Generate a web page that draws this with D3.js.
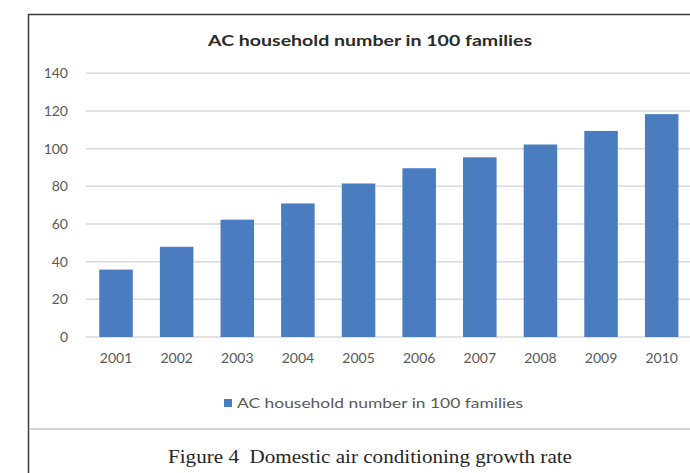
<!DOCTYPE html>
<html>
<head>
<meta charset="utf-8">
<script src="https://cdn.jsdelivr.net/npm/d3@7"></script>
<style>
  html, body { margin: 0; padding: 0; background: #fff; }
  svg { display: block; }
  .pre { white-space: pre; }
</style>
</head>
<body>
<div id="chart"></div>
<script>
// Air conditioners owned per 100 households, 2001-2010
const years = ["2001", "2002", "2003", "2004", "2005", "2006", "2007", "2008", "2009", "2010"];
const acPer100 = [35.8, 47.9, 62.3, 70.9, 81.5, 89.6, 95.4, 102.2, 109.4, 118.3];
const yTicks = [0, 20, 40, 60, 80, 100, 120, 140];
const seriesName = "AC household number in 100 families";
const chartTitle = "AC household number in 100 families";
const caption = "Figure 4  Domestic air conditioning growth rate";

const W = 690, H = 473;
const svg = d3.select("#chart").append("svg").attr("width", W).attr("height", H);

const uiFont = "Lato, 'Open Sans', sans-serif";
const barColor = "#4a7cc0";

// frame around the figure
svg.append("rect")
  .attr("x", 28.5).attr("y", 14.5)
  .attr("width", 700).attr("height", 500)
  .attr("fill", "none").attr("stroke", "#3a3a3a").attr("stroke-width", 1.5);

// separator between chart and caption
svg.append("line")
  .attr("x1", 29).attr("x2", W).attr("y1", 429).attr("y2", 429)
  .attr("stroke", "#d4d4d4").attr("stroke-width", 2);

const plot = { left: 85.7, right: 692, top: 73.3, bottom: 337 };

const x = d3.scaleBand()
  .domain(years)
  .range([plot.left, plot.right])
  .paddingInner(0.447)
  .paddingOuter(0.2235);

const y = d3.scaleLinear()
  .domain([0, 140])
  .range([plot.bottom, plot.top]);

// horizontal gridlines
svg.append("g")
  .selectAll("line")
  .data(yTicks)
  .join("line")
  .attr("x1", plot.left).attr("x2", W)
  .attr("y1", d => y(d)).attr("y2", d => y(d))
  .attr("stroke", "#d9d9d9").attr("stroke-width", 1.5);

// bars
svg.append("g")
  .selectAll("rect")
  .data(years.map((yr, i) => ({ yr, v: acPer100[i] })))
  .join("rect")
  .attr("x", d => x(d.yr))
  .attr("width", x.bandwidth())
  .attr("y", d => y(d.v))
  .attr("height", d => y(0) - y(d.v))
  .attr("fill", barColor);

// y axis labels
const yAxis = d3.axisLeft(y).tickValues(yTicks).tickSize(0).tickPadding(0);
const gy = svg.append("g").attr("transform", "translate(68,0)").call(yAxis);
gy.select(".domain").remove();
gy.selectAll("text")
  .attr("font-family", uiFont).attr("font-size", 14).attr("fill", "#595959");

// x axis labels
const xAxis = d3.axisBottom(x).tickSize(0).tickPadding(0);
const gx = svg.append("g").attr("transform", "translate(0,353)").call(xAxis);
gx.select(".domain").remove();
gx.selectAll("text")
  .attr("font-family", uiFont).attr("font-size", 14).attr("fill", "#595959");

// title
svg.append("text")
  .attr("x", 208).attr("y", 46)
  .attr("textLength", 324).attr("lengthAdjust", "spacingAndGlyphs")
  .attr("font-family", uiFont).attr("font-weight", "bold").attr("font-size", 16)
  .attr("fill", "#2b2b2b")
  .text(chartTitle);

// legend
const lg = svg.append("g").attr("transform", "translate(224,399)");
lg.append("rect").attr("width", 8).attr("height", 8).attr("fill", barColor);
lg.append("text")
  .attr("x", 13).attr("y", 9)
  .attr("textLength", 286).attr("lengthAdjust", "spacingAndGlyphs")
  .attr("font-family", uiFont).attr("font-size", 14).attr("fill", "#595959")
  .text(seriesName);

// caption
svg.append("text")
  .attr("class", "pre")
  .attr("x", 168).attr("y", 463)
  .attr("textLength", 404).attr("lengthAdjust", "spacingAndGlyphs")
  .attr("font-family", "'Liberation Serif', 'DejaVu Serif', serif").attr("font-size", 18)
  .attr("fill", "#262626")
  .text(caption);
</script>
</body>
</html>
